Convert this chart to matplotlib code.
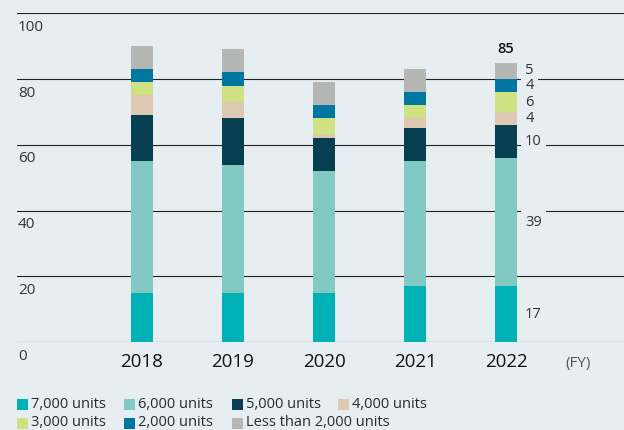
import matplotlib
matplotlib.use("Agg")
import matplotlib.pyplot as plt
from matplotlib.patches import Rectangle
import numpy as np

plt.rcParams['font.family'] = ['Open Sans', 'DejaVu Sans']

# Fleet composition by unit class (per fiscal year)
years = ['2018', '2019', '2020', '2021', '2022']
series_names = ['7,000 units', '6,000 units', '5,000 units', '4,000 units',
                '3,000 units', '2,000 units', 'Less than 2,000 units']
units_7000 = [15, 15, 15, 17, 17]
units_6000 = [40, 39, 37, 38, 39]
units_5000 = [14, 14, 10, 10, 10]
units_4000 = [6, 5, 1, 3, 4]
units_3000 = [4, 5, 5, 4, 6]
units_2000 = [4, 4, 4, 4, 4]
units_lt2000 = [7, 7, 7, 7, 5]
y_ticks = [0, 20, 40, 60, 80, 100]

colors = ['#00B2B5', '#82C8C3', '#073F52', '#DCC8B3', '#CFE283', '#0077A1', '#B5B7B5']
bg = '#E7EEF1'

series = [units_7000, units_6000, units_5000, units_4000, units_3000, units_2000, units_lt2000]

fig = plt.figure(figsize=(6.24, 4.30), dpi=100, facecolor=bg)
W, H = 624, 430
ax = fig.add_axes([17 / W, 1 - 342 / H, 1 - 17 / W, (342 - 13.3) / H])
ax.set_facecolor(bg)
ax.set_xlim(-(142 - 17) / 91, 4 + (624 - 506) / 91)
ax.set_ylim(0, 100)
for s in ax.spines.values():
    s.set_visible(False)
ax.set_xticks([])
ax.set_yticks([])

# horizontal rules
for t in y_ticks:
    ax.axhline(t, color='#222222', lw=0.8, zorder=1)
    ax.annotate(str(t), xy=(0, t), xycoords=('axes fraction', 'data'),
                xytext=(1, -14), textcoords='offset pixels',
                ha='left', va='center', fontsize=11, color='#333333')

x = np.arange(len(years))
width = 0.245
bottom = np.zeros(len(years))
for vals, name, c in zip(series, series_names, colors):
    ax.bar(x, vals, width, bottom=bottom, color=c, label=name, zorder=2, linewidth=0)
    bottom += np.array(vals)

# year labels
for i, yr in enumerate(years):
    ax.annotate(yr, xy=(i, 0), xycoords='data', xytext=(0, -20),
                textcoords='offset pixels', ha='center', va='center',
                fontsize=13.5, color='#111111')
ax.annotate('(FY)', xy=(4.79, 0), xycoords='data', xytext=(0, -21),
            textcoords='offset pixels', ha='center', va='center',
            fontsize=11, color='#555555')

# value labels for the latest year: a background-coloured box breaks the
# rule behind each label, and the text itself is drawn on top of all boxes
last = len(years) - 1
cum = 0
for vals in series:
    v = vals[last]
    pos = (last + width / 2, cum + v / 2)
    ax.annotate(str(v), xy=pos, xycoords='data',
                xytext=(8, 0), textcoords='offset pixels', ha='left', va='center',
                fontsize=10.5, color=bg, zorder=3,
                bbox=dict(boxstyle='square,pad=0.3', facecolor=bg, edgecolor='none'))
    ax.annotate(str(v), xy=pos, xycoords='data',
                xytext=(8, 0), textcoords='offset pixels', ha='left', va='center',
                fontsize=10.5, color='#333333', zorder=4)
    cum += v
ax.annotate(str(int(bottom[last])), xy=(last, bottom[last]), xycoords='data',
            xytext=(0, 14), textcoords='offset pixels', ha='center', va='center',
            fontsize=10.5, color='#111111', fontweight='semibold')

# legend laid out in two rows
col_x = [17, 124, 232, 338]
rows = [[0, 1, 2, 3], [4, 5, 6]]
row_y = [404, 423]
sq = 11
for r, idxs in enumerate(rows):
    for j, k in enumerate(idxs):
        x0 = col_x[j]
        yc = row_y[r]
        fig.add_artist(Rectangle((x0 / W, 1 - (yc + sq / 2) / H), sq / W, sq / H,
                                 transform=fig.transFigure, facecolor=colors[k],
                                 edgecolor='none'))
        fig.text((x0 + sq + 3) / W, 1 - yc / H, series_names[k], ha='left',
                 va='center', fontsize=10.5, color='#2a2a2a')

fig.savefig('out.png', dpi=100, facecolor=bg)
